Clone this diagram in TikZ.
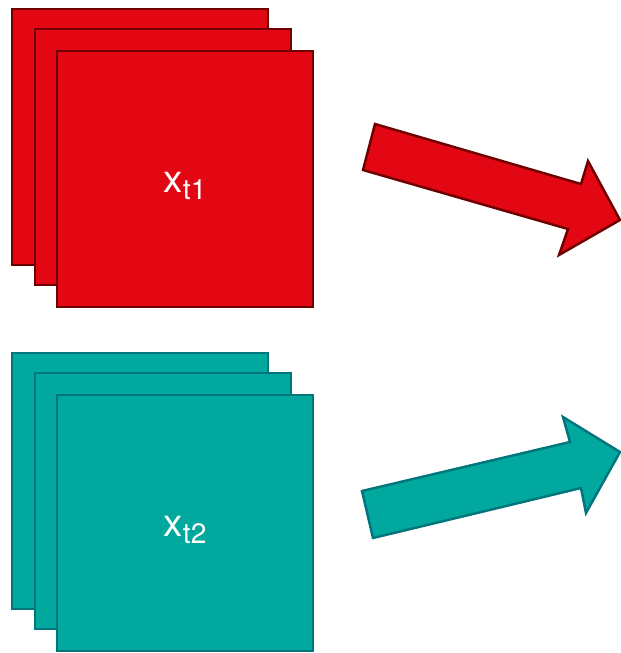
\documentclass[tikz,border=0pt]{standalone}
\usepackage{fontspec}
\setmainfont{TeX Gyre Heros}
\usepackage{tikz}
\usetikzlibrary{positioning}
\definecolor{redfill}{HTML}{E30613}
\definecolor{redline}{HTML}{6E0000}
\definecolor{tealfill}{HTML}{00A89D}
\definecolor{tealline}{HTML}{00767C}
\tikzset{
  frame/.style={rectangle,minimum size=5.12cm,line width=1.4pt,inner sep=0pt,text height=14.8pt,text depth=0pt,
    font=\fontsize{22}{26}\selectfont,text=white},
  redframe/.style={frame,fill=redfill,draw=redline},
  tealframe/.style={frame,fill=tealfill,draw=tealline},
  blockarr/.style={line width=1.4pt,line join=miter}
}
\newcommand{\frameLabel}[1]{x\raisebox{-4.5pt}{\fontsize{16}{18}\selectfont t#1}}

\begin{document}
\begin{tikzpicture}[x=0.02cm,y=-0.02cm]
  \useasboundingbox (0,0) rectangle (621,653);
  % stack for the first time step
  \node[redframe] (r3) at (140,137) {};
  \node[redframe] (r2) at (163,157) {};
  \node[redframe] (r1) at (185,179) {\frameLabel{1}};
  % stack for the second time step
  \node[tealframe] (g3) at (140,481) {};
  \node[tealframe] (g2) at (163,501) {};
  \node[tealframe] (g1) at (185,523) {\frameLabel{2}};
  % block arrows
  \draw[blockarr,fill=redfill,draw=redline] (375,124) -- (581,184) -- (588,161) -- (620,220)
    -- (559,255) -- (568,229) -- (363,170) -- cycle;
  \draw[blockarr,fill=tealfill,draw=tealline] (362,491) -- (570,442) -- (563,417) -- (620,452)
    -- (586,513) -- (581,488) -- (373,538) -- cycle;
\end{tikzpicture}
\end{document}
